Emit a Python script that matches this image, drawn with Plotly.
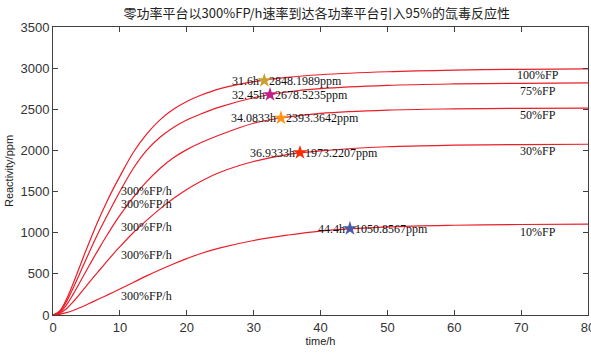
import plotly.graph_objects as go

# ---- data ----
t = [0, 1, 2, 3, 4, 5, 6, 7, 8, 9, 10, 12, 14, 16, 18, 20, 22, 25, 30, 35, 40, 50, 60, 70, 80]

fp100 = [0, 50, 190, 380, 590, 800, 1000, 1190, 1368, 1533, 1685, 1975, 2199, 2371, 2499, 2595, 2667, 2751, 2836, 2888, 2920, 2956, 2976, 2986, 2991]
fp75  = [0, 40, 160, 325, 505, 687, 865, 1035, 1195, 1350, 1500, 1780, 2000, 2160, 2280, 2370, 2440, 2530, 2640, 2710, 2750, 2790, 2808, 2816, 2820]
fp50  = [0, 30, 120, 250, 395, 540, 685, 825, 960, 1090, 1210, 1430, 1620, 1780, 1910, 2010, 2090, 2190, 2330, 2405, 2450, 2490, 2505, 2512, 2515]
fp30  = [0, 20, 75, 160, 255, 355, 455, 550, 645, 740, 830, 1000, 1150, 1290, 1415, 1525, 1620, 1735, 1865, 1950, 1995, 2045, 2064, 2071, 2075]
fp10  = [0, 8, 28, 55, 88, 125, 162, 200, 238, 276, 315, 395, 475, 550, 620, 685, 745, 815, 905, 970, 1020, 1070, 1091, 1100, 1105]

series = [fp100, fp75, fp50, fp30, fp10]
levels = ["100%FP", "75%FP", "50%FP", "30%FP", "10%FP"]
level_label_y = [2918, 2724, 2425, 1989, 1008]

star_t = [31.6, 32.45, 34.0833, 36.9333, 44.4]
star_v = [2848.1989, 2678.5235, 2393.3642, 1973.2207, 1050.8567]
star_t_text = ["31.6h", "32.45h", "34.0833h", "36.9333h", "44.4h"]
star_v_text = ["2848.1989ppm", "2678.5235ppm", "2393.3642ppm", "1973.2207ppm", "1050.8567ppm"]
star_colors = ["#c8a030", "#c0208a", "#ff9418", "#ff2a00", "#4a5aa8"]

rate_label = "300%FP/h"
rate_label_y = [1513, 1344, 1065, 726, 234]

title = "零功率平台以300%FP/h速率到达各功率平台引入95%的氙毒反应性"

# ---- figure ----
fig = go.Figure()
for s in series:
    fig.add_trace(go.Scatter(x=t, y=s, mode="lines",
                             line=dict(color="rgb(235,30,40)", width=1.2, shape="spline", smoothing=1.0),
                             showlegend=False, hoverinfo="skip"))

fig.add_trace(go.Scatter(x=star_t, y=star_v, mode="markers",
                         marker=dict(symbol="star", size=11, color=star_colors, line=dict(width=0)),
                         showlegend=False, hoverinfo="skip"))

serif = "Liberation Serif"
ann = []
for tx, vy, a, b in zip(star_t, star_v, star_t_text, star_v_text):
    ann.append(dict(x=tx, y=vy, text=a, xanchor="right", yanchor="middle", xshift=-3, showarrow=False,
                    font=dict(family=serif, size=12, color="#111")))
    ann.append(dict(x=tx, y=vy, text=b, xanchor="left", yanchor="middle", xshift=3, showarrow=False,
                    font=dict(family=serif, size=12, color="#111")))
for lab, ly in zip(levels, level_label_y):
    ann.append(dict(x=72.5, y=ly, text=lab, xanchor="center", yanchor="middle", showarrow=False,
                    font=dict(family=serif, size=12, color="#111")))
for ly in rate_label_y:
    ann.append(dict(x=9.9, y=ly, text=rate_label, xanchor="left", yanchor="middle", showarrow=False,
                    font=dict(family=serif, size=12, color="#111")))

axis_common = dict(showline=True, linecolor="#404040", linewidth=1, mirror="ticks", ticks="inside",
                   ticklen=5, tickcolor="#404040", showgrid=False, zeroline=False, automargin=False,
                   ticklabeloverflow="allow",
                   tickfont=dict(family="Liberation Sans", size=13, color="#333"))

fig.update_layout(
    width=591, height=357,
    margin=dict(l=53, r=3, t=27, b=42),
    paper_bgcolor="white", plot_bgcolor="white",
    title=dict(text=title, x=0.536, xanchor="center", y=0.961, yanchor="middle",
               font=dict(family="Noto Sans CJK SC", size=13, color="#222")),
    xaxis=dict(range=[0, 80], dtick=10, title=dict(text="time/h", standoff=0,
               font=dict(family="Liberation Sans", size=11, color="#222")), **axis_common),
    yaxis=dict(range=[0, 3500], dtick=500, title=dict(text="Reactivity/ppm", standoff=4,
               font=dict(family="Liberation Sans", size=11, color="#222")), **axis_common),
    annotations=ann,
)

fig.write_html("out.html", config={"displayModeBar": False},
               post_script="document.body.style.margin='0px';")
